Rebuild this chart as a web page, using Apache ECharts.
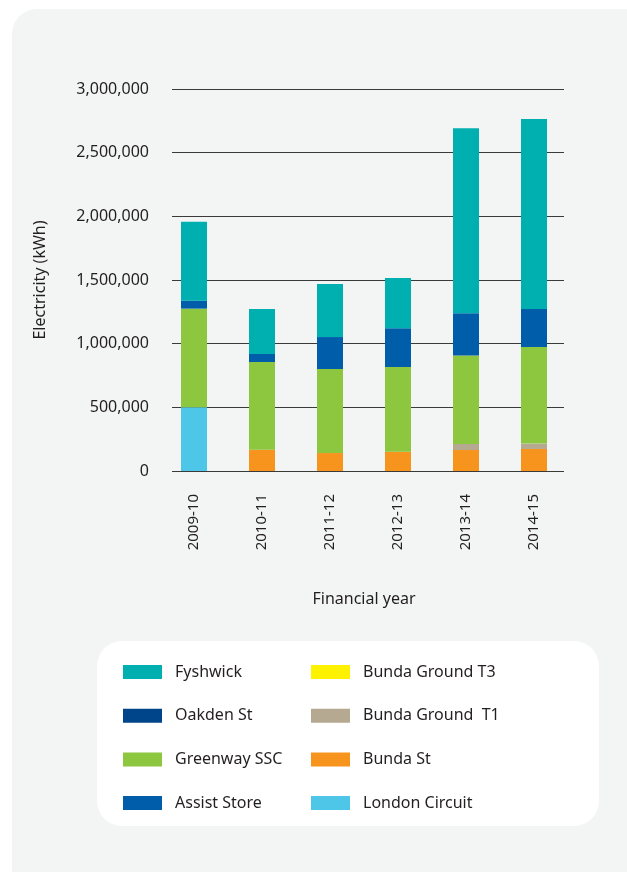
<!DOCTYPE html>
<html>
<head>
<meta charset="utf-8">
<script src="https://cdn.jsdelivr.net/npm/echarts@6/dist/echarts.min.js"></script>
<style>
html,body{margin:0;padding:0;background:#ffffff;}
#chart{width:627px;height:872px;}
</style>
</head>
<body>
<div id="chart"></div>
<script>
var categories = ['2009-10','2010-11','2011-12','2012-13','2013-14','2014-15'];
var londonCircuit = [500000, 0, 0, 0, 0, 0];
var bundaSt = [0, 167000, 141000, 151000, 165000, 173000];
var bundaGroundT1 = [0, 0, 0, 0, 47000, 42000];
var bundaGroundT3 = [0, 0, 0, 0, 0, 0];
var greenwaySSC = [775000, 689000, 660000, 665000, 696000, 759000];
var oakdenSt = [0, 0, 0, 0, 0, 0];
var assistStore = [63000, 63000, 251000, 306000, 330000, 298000];
var fyshwick = [620000, 353000, 416000, 393000, 1453000, 1492000];
var yTicks = [0, 500000, 1000000, 1500000, 2000000, 2500000, 3000000];

var FONT = '"Noto Sans", "Open Sans", sans-serif';
var TXT = '#231f20';
var chart = echarts.init(document.getElementById('chart'), null, {renderer:'canvas'});

function bar(name, data, color) {
  return {name:name, type:'bar', stack:'total', data:data, barWidth:26,
    xAxisIndex:0, yAxisIndex:0, itemStyle:{color:color}, emphasis:{disabled:true}};
}

var legendText = {fontFamily:FONT, fontSize:16, color:TXT, padding:[0,0,0,8]};

chart.setOption({
  animation:false,
  backgroundColor:'#ffffff',
  graphic:[
    {type:'rect', z:-10, shape:{x:12, y:9, width:640, height:900, r:25}, style:{fill:'#f3f5f4'}},
    {type:'rect', z:-5, shape:{x:97, y:641, width:502, height:185, r:25}, style:{fill:'#ffffff'}}
  ],
  grid:[
    {left:160, right:59, top:89, height:382},
    {left:172, right:63, top:89, height:382}
  ],
  xAxis:[
    {type:'category', gridIndex:0, data:categories, boundaryGap:true,
      axisLine:{show:false}, axisTick:{show:false},
      axisLabel:{rotate:90, margin:23, fontFamily:FONT, fontSize:15, color:TXT},
      name:'Financial year', nameLocation:'middle', nameGap:120,
      nameTextStyle:{fontFamily:FONT, fontSize:16, color:TXT}},
    {type:'value', gridIndex:1, show:false, min:0, max:1}
  ],
  yAxis:[
    {type:'value', gridIndex:0, min:0, max:3000000, interval:500000, show:false},
    {type:'value', gridIndex:1, min:0, max:3000000, interval:500000,
      axisLine:{show:false}, axisTick:{show:false},
      splitLine:{show:true, lineStyle:{color:'#3a3a3a', width:1}},
      axisLabel:{margin:23, fontFamily:FONT, fontSize:16, color:TXT,
        formatter:function(v){ return yTicks.indexOf(v) >= 0 ? v.toLocaleString('en-US') : ''; }},
      name:'Electricity (kWh)', nameLocation:'middle', nameGap:124, nameRotate:90,
      nameTextStyle:{fontFamily:FONT, fontSize:16, color:TXT}}
  ],
  legend:[
    {orient:'vertical', left:118, top:659, itemWidth:39, itemHeight:14, itemGap:27.7,
      icon:'rect', selectedMode:false, textStyle:legendText,
      data:['Fyshwick','Oakden St','Greenway SSC','Assist Store']},
    {orient:'vertical', left:306, top:659, itemWidth:39, itemHeight:14, itemGap:27.7,
      icon:'rect', selectedMode:false, textStyle:legendText,
      data:['Bunda Ground T3','Bunda Ground  T1','Bunda St','London Circuit']}
  ],
  series:[
    bar('London Circuit', londonCircuit, '#4dc6e8'),
    bar('Bunda St', bundaSt, '#f7941d'),
    bar('Bunda Ground  T1', bundaGroundT1, '#b5a991'),
    bar('Bunda Ground T3', bundaGroundT3, '#fff200'),
    bar('Greenway SSC', greenwaySSC, '#8dc63f'),
    bar('Oakden St', oakdenSt, '#004489'),
    bar('Assist Store', assistStore, '#005daa'),
    bar('Fyshwick', fyshwick, '#00b0b0')
  ]
});
</script>
</body>
</html>
